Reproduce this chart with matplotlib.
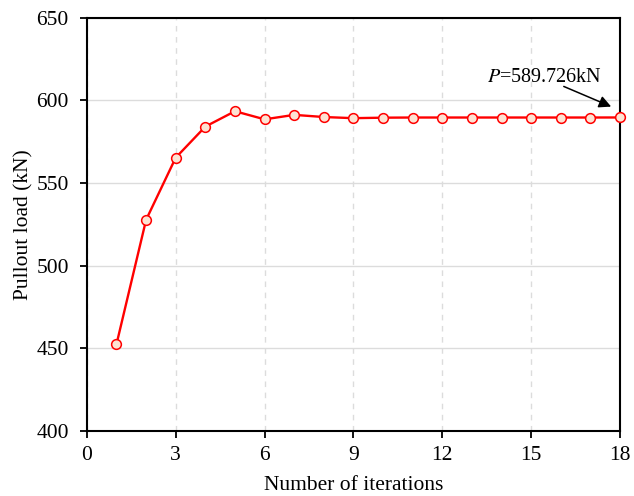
import matplotlib
matplotlib.use("Agg")
import matplotlib.pyplot as plt

# pullout load at each iteration
iterations = list(range(1, 19))
load = [452.5, 527.8, 565.4, 584.2, 593.5, 588.6, 591.3, 590.0, 589.3,
        589.6, 589.7, 589.7, 589.7, 589.7, 589.7, 589.7, 589.7, 589.726]
final_load = 589.726

plt.rcParams['font.family'] = ['Liberation Serif', 'DejaVu Serif']
plt.rcParams['font.size'] = 15.5

fig = plt.figure(figsize=(6.34, 4.96), dpi=100)
ax = fig.add_axes([0.137, 0.131, 0.841, 0.833])

ax.plot(iterations, load, color='red', lw=1.7, marker='o', ms=7,
        markerfacecolor='#fde3d3', markeredgecolor='red', markeredgewidth=1.1,
        zorder=3, clip_on=False)

ax.set_xlim(0, 18)
ax.set_ylim(400, 650)
ax.set_xticks(range(0, 19, 3))
ax.set_yticks(range(400, 651, 50))

ax.yaxis.grid(True, color='#dcdcdc', lw=1.0, ls='-')
ax.xaxis.grid(True, color='#dcdcdc', lw=1.0, ls=(0, (4, 4)))
ax.set_axisbelow(True)

for s in ax.spines.values():
    s.set_linewidth(1.5)
ax.tick_params(direction='out', length=5, width=1.3)
ax.tick_params(axis='y', pad=8)
ax.tick_params(axis='x', pad=6)

ax.set_xlabel('Number of iterations', labelpad=8)
ax.set_ylabel('Pullout load (kN)', labelpad=2)

# value label with arrow pointing at the last iteration
ax.text(13.5, 614, '$\\it{P}$=%.3fkN' % final_load, fontsize=14.5,
        va='center', ha='left', math_fontfamily='stix')
ax.annotate('', xy=(17.7, 596.3), xytext=(16.1, 608.5),
            arrowprops=dict(arrowstyle='-|>', color='black', lw=1.1,
                            mutation_scale=18, shrinkA=0, shrinkB=0),
            annotation_clip=False)

fig.savefig('out.png', dpi=100)
